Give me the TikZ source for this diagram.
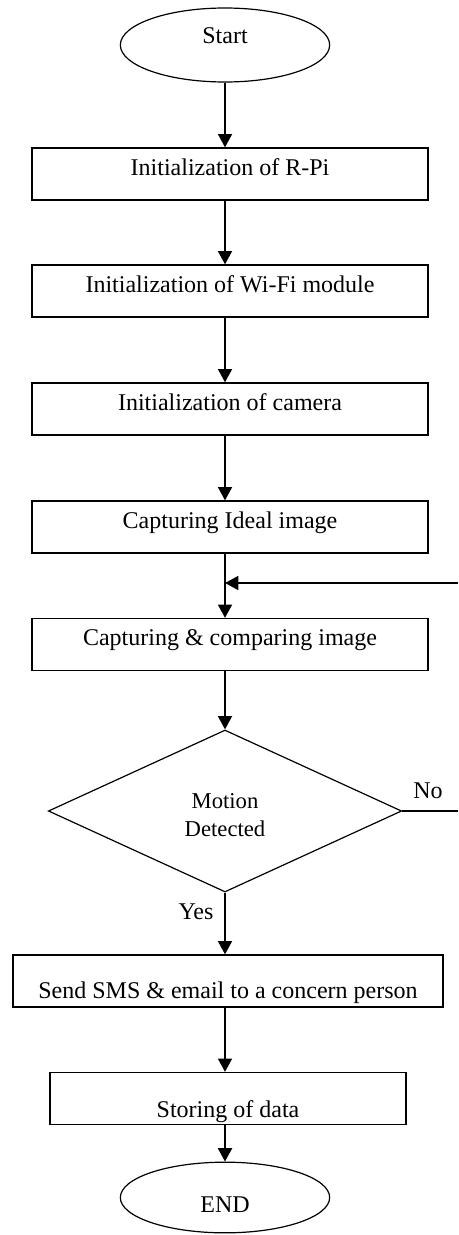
\documentclass[tikz,border=0pt]{standalone}
\usepackage{fontspec}
\setmainfont{Liberation Serif}
\usetikzlibrary{arrows.meta,calc,positioning,shapes.geometric}

\tikzset{
  terminal/.style={draw,ellipse,line width=0.9pt,minimum width=157pt,minimum height=55.5pt,inner sep=0pt,font=\fontsize{18}{21}\selectfont},
  procbox/.style={draw,rectangle,line width=1pt,minimum width=297pt,minimum height=39pt,inner sep=0pt,font=\fontsize{18}{21}\selectfont,text height=13pt,text depth=11pt},
  decision/.style={draw,diamond,line width=0.9pt,minimum width=265pt,minimum height=121.5pt,inner sep=0pt,align=center,font=\fontsize{17}{21}\selectfont},
  flow/.style={line width=1.4pt,-{Triangle[length=10pt,width=10.5pt]}},
  tag/.style={inner sep=0pt,font=\fontsize{18}{21}\selectfont},
}

\begin{document}
\begin{tikzpicture}[x=0.75pt,y=-0.75pt]
\useasboundingbox (0,0) rectangle (458,1235);
% main chain
\node[terminal,text height=10pt,text depth=13pt] (start) at (225,45) {Start};
\node[procbox] (rpi) at (230,174) {Initialization of R-Pi};
\node[procbox] (wifi) at (230,291) {Initialization of Wi-Fi module};
\node[procbox] (cam) at (230,409) {Initialization of camera};
\node[procbox] (ideal) at (230,527) {Capturing Ideal image};
\node[procbox] (comp) at (230,644.5) {Capturing \& comparing image};
\node[decision,text height=37.5pt,text depth=0pt] (dec) at (225,811) {Motion\\Detected};
\node[procbox,minimum width=322.5pt,text height=25.5pt,text depth=0pt] (sms) at (228,981) {Send SMS \& email to a concern person};
\node[procbox,minimum width=267pt,text height=27.75pt,text depth=0pt] (store) at (228,1098.5) {Storing of data};
\node[terminal,minimum height=53pt,text height=23pt,text depth=0pt] (end) at (225,1197.5) {END};
\foreach \a/\b in {start/rpi,rpi/wifi,wifi/cam,cam/ideal,ideal/comp,comp/dec,dec/sms,sms/store,store/end}
  \draw[flow] (\a.south -| start) -- (\b.north -| start);
% loop back
\coordinate (noout) at (458,811);
\coordinate (loopin) at (458,583);
\draw[line width=1pt] (dec.east) -- (noout);
\draw[flow,line width=1.2pt] (loopin) -- (loopin -| start);
\node[tag] (nolbl) at (428,790.5) {No};
\node[tag] (yeslbl) at (196,912) {Yes};
\end{tikzpicture}
\end{document}
